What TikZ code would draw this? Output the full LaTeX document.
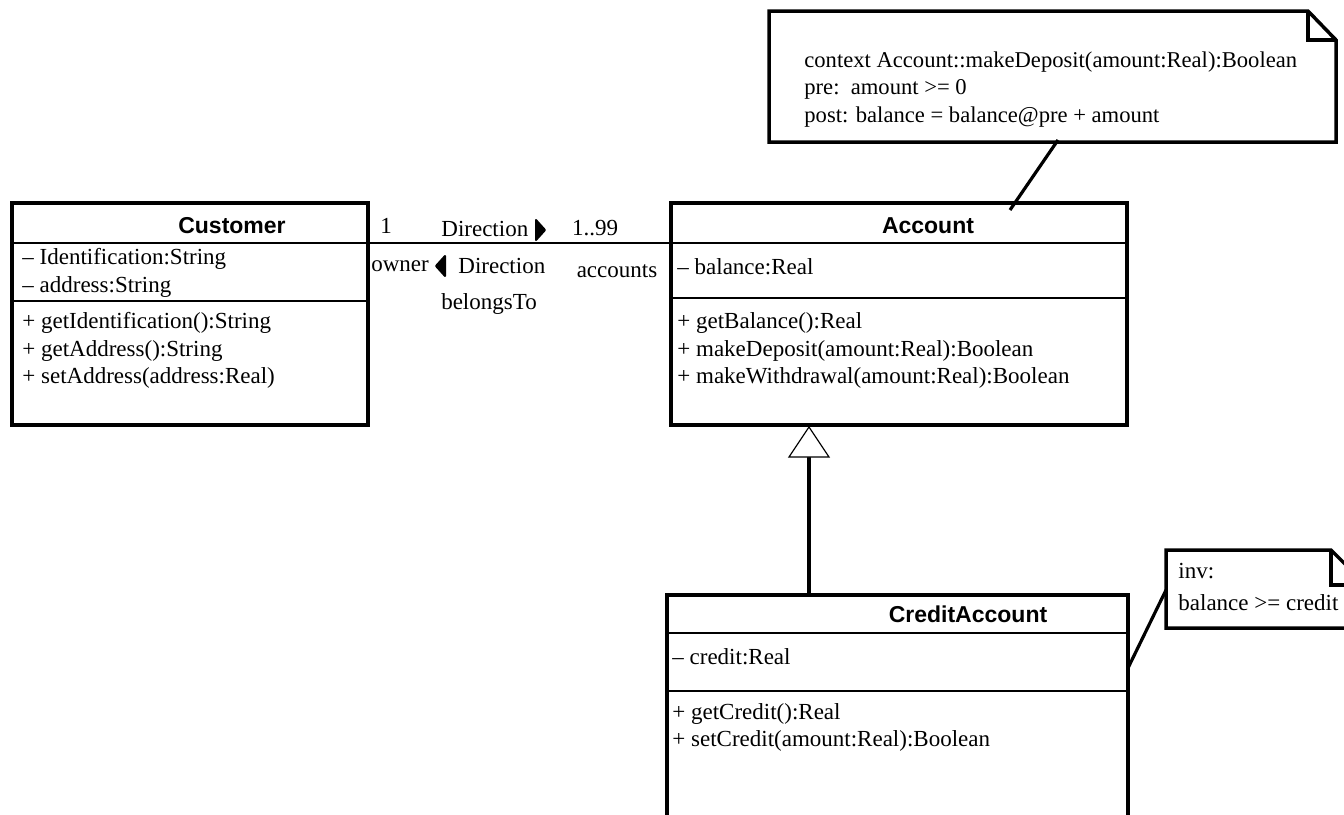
\documentclass[tikz,border=0pt]{standalone}
\usepackage{fontspec}
\setmainfont{Liberation Serif}
\setsansfont{Liberation Sans}
\usetikzlibrary{fit}
\begin{document}
\begin{tikzpicture}[x=0.5pt,y=-0.5pt,
  box/.style={draw, line width=1.75pt, inner sep=0pt},
  sep/.style={line width=1.3pt},
  txt/.style={inner sep=0pt, anchor=west, font=\fontsize{11.5}{14}\selectfont},
  ntxt/.style={inner sep=0pt, anchor=west, font=\fontsize{11.3}{14}\selectfont},
  ctr/.style={inner sep=0pt, font=\fontsize{11.5}{14}\selectfont},
  title/.style={inner sep=0pt, font=\fontsize{11.5}{14}\selectfont\sffamily\bfseries},
  link/.style={line width=1.6pt},
  assoc/.style={line width=0.9pt},
  notepath/.style={line width=1.75pt, line join=miter},
  dirmark/.style={fill=black, draw=black, line width=1pt, line join=round},
  gentri/.style={draw=black, fill=white, line width=0.6pt},
]
\useasboundingbox (0,0) rectangle (1344,814);
\begin{scope}
\clip (0,0) rectangle (1344,814);

% ---------- Customer ----------
\node[box, fit={(12,203)(368,425)}] (cust) {};
\draw[sep] (12,243) -- (368,243);
\draw[sep] (12,301) -- (368,301);
\node[title] (custT) at (232,226) {Customer};
\node[txt] (c1) at (22,259) {– Identification:String};
\node[txt] (c2) at (22,287) {– address:String};
\node[txt] (c3) at (22,323) {+ getIdentification():String};
\node[txt] (c4) at (22,351) {+ getAddress():String};
\node[txt] (c5) at (22,378) {+ setAddress(address:Real)};

% ---------- Account ----------
\node[box, fit={(671,203)(1127,425)}] (acc) {};
\draw[sep] (671,243) -- (1127,243);
\draw[sep] (671,298) -- (1127,298);
\node[title] (accT) at (928,226) {Account};
\node[txt] (a1) at (677,267) {– balance:Real};
\node[txt] (a2) at (677,323) {+ getBalance():Real};
\node[txt] (a3) at (677,351) {+ makeDeposit(amount:Real):Boolean};
\node[txt] (a4) at (677,378) {+ makeWithdrawal(amount:Real):Boolean};

% ---------- CreditAccount ----------
\node[box, fit={(667,595)(1128,850)}] (cred) {};
\draw[sep] (667,633) -- (1128,633);
\draw[sep] (667,691) -- (1128,691);
\node[title] (credT) at (968,614) {CreditAccount};
\node[txt] (r1) at (672,657) {– credit:Real};
\node[txt] (r2) at (672,714) {+ getCredit():Real};
\node[txt] (r3) at (672,741) {+ setCredit(amount:Real):Boolean};

% ---------- Association ----------
\coordinate (ah) at (0,243);
\draw[assoc] (cust.east |- ah) -- (acc.west |- ah);
\node[ctr] (m1) at (386,226) {1};
\node[txt] (d1) at (441,229) {Direction};
\draw[dirmark] (536,220) -- (545,230) -- (536,240) -- cycle;
\node[ctr] (m2) at (595,228) {1..99};
\node[ctr] (r_owner) at (400,266) {owner};
\draw[dirmark] (445,256) -- (436,266) -- (445,276) -- cycle;
\node[txt] (d2) at (458,266) {Direction};
\node[ctr] (r_acc) at (617,271) {accounts};
\node[ctr] (aname) at (489,304) {belongsTo};

% ---------- Generalization ----------
\coordinate (gtip) at (809,427);
\coordinate (gbase) at (809,457);
\draw[link] (cred.north -| gbase) -- (gbase);
\draw[gentri] (gtip) -- (829,457) -- (789,457) -- cycle;

% ---------- Note 1 ----------
\draw[notepath] (769,11) -- (1308,11) -- (1336,40) -- (1336,142) -- (769,142) -- cycle;
\draw[notepath] (1308,11) -- (1308,40) -- (1336,40);
\node[inner sep=0pt, fit={(769,11)(1336,142)}] (note1) {};
\node[ntxt] (n1a) at (804,62) {context Account::makeDeposit(amount:Real):Boolean};
\node[ntxt] (n1b) at (804,89) {pre:\ \ amount >= 0};
\node[ntxt] (n1c) at (804,117) {post: balance = balance@pre + amount};
\coordinate (l1a) at (1058,140);
\coordinate (l1b) at (1010,210);
\draw[link] (l1a) -- (l1b);

% ---------- Note 2 ----------
\draw[notepath] (1166,550) -- (1331,550) -- (1366,585) -- (1366,628) -- (1166,628) -- cycle;
\draw[notepath] (1331,550) -- (1331,585) -- (1366,585);
\node[inner sep=0pt, fit={(1166,550)(1366,628)}] (note2) {};
\node[txt] (n2a) at (1178,571) {inv:};
\node[txt] (n2b) at (1178,603) {balance >= credit};
\coordinate (l2a) at (1128,668);
\coordinate (l2b) at (1166,590);
\draw[link] (l2a) -- (l2b);

\end{scope}
\end{tikzpicture}
\end{document}
